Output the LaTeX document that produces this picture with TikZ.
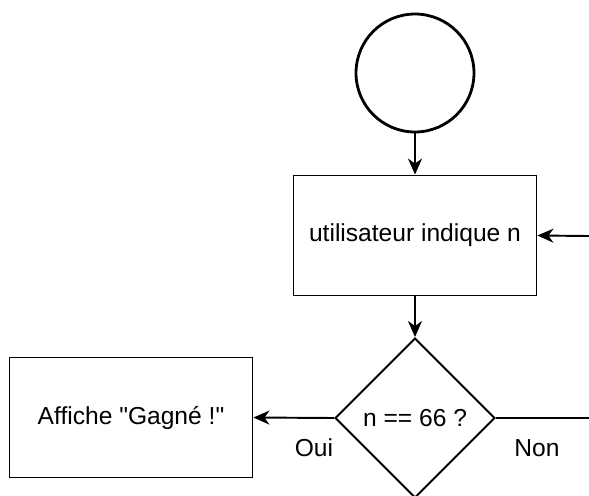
\documentclass[tikz,border=0pt]{standalone}
\usepackage{fontspec}
\setmainfont{Liberation Sans}[Ligatures=TeXOff]
\usetikzlibrary{shapes.geometric,arrows.meta}
\begin{document}
\begin{tikzpicture}[x=0.02cm,y=-0.02cm,
  every node/.style={font=\fontsize{14}{17}\selectfont},
  box/.style={draw,line width=1.1pt,minimum width=4.86cm,minimum height=2.40cm,inner sep=0pt},
  test/.style={draw,diamond,line width=1.1pt,minimum width=3.2cm,minimum height=3.2cm,inner sep=0pt},
  flow/.style={line width=1.1pt,-{Stealth[length=0.32cm,width=0.28cm,inset=0.1cm]}}]
\useasboundingbox (0,0) rectangle (589,495);
\begin{scope}
\clip (0,0) rectangle (589,495);
\node[draw,circle,line width=1.6pt,minimum size=2.36cm,inner sep=0pt] (start) at (415,73) {};
\node[box] (saisie) at (415,235.5) {utilisateur indique n};
\node[test] (cond) at (415,418) {n == 66 ?};
\node[box] (gagne) at (131,417.5) {Affiche "Gagné !"};
\coordinate (retour) at (589,236);
\coordinate (sortie) at (589,418);
\draw[flow] (start) -- (saisie);
\draw[flow] (saisie) -- (cond);
\draw[flow] (retour) -- (saisie.east);
\draw[flow] (cond.west) -- (gagne.east);
\draw[line width=1.1pt] (cond.east) -- (sortie);
\node (oui) at (314,448) {Oui};
\node (non) at (537,448) {Non};
\end{scope}
\end{tikzpicture}
\end{document}
